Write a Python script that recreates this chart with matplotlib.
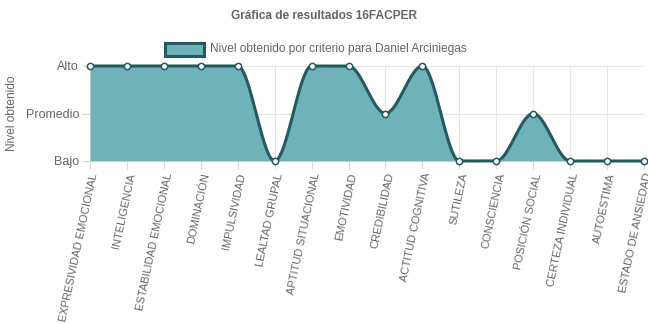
import matplotlib
matplotlib.use("Agg")
import matplotlib.pyplot as plt
import numpy as np

plt.rcParams['font.family'] = ['Liberation Sans', 'DejaVu Sans']

criterios = ["EXPRESIVIDAD EMOCIONAL", "INTELIGENCIA", "ESTABILIDAD EMOCIONAL",
             "DOMINACIÓN", "IMPULSIVIDAD", "LEALTAD GRUPAL", "APTITUD SITUACIONAL",
             "EMOTIVIDAD", "CREDIBILIDAD", "ACTITUD COGNITIVA", "SUTILEZA",
             "CONSCIENCIA", "POSICIÓN SOCIAL", "CERTEZA INDIVIDUAL", "AUTOESTIMA",
             "ESTADO DE ANSIEDAD"]
niveles = [3, 3, 3, 3, 3, 1, 3, 3, 2, 3, 1, 1, 2, 1, 1, 1]
nivel_labels = ["Bajo", "Promedio", "Alto"]
nivel_ticks = [1, 2, 3]


def monotone(x, y, n=40):
    # curva monotona tipo Chart.js (Fritsch-Carlson)
    x = np.asarray(x, float)
    y = np.asarray(y, float)
    d = np.diff(y) / np.diff(x)
    m = np.zeros(len(y))
    m[0] = d[0]
    m[-1] = d[-1]
    for i in range(1, len(y) - 1):
        m[i] = 0 if d[i - 1] * d[i] <= 0 else (d[i - 1] + d[i]) / 2
    for i in range(len(d)):
        if d[i] == 0:
            m[i] = m[i + 1] = 0
            continue
        a, b = m[i] / d[i], m[i + 1] / d[i]
        s = a * a + b * b
        if s > 9:
            t = 3 / np.sqrt(s)
            m[i], m[i + 1] = t * a * d[i], t * b * d[i]
    xs, ys = [], []
    for i in range(len(d)):
        h = x[i + 1] - x[i]
        t = np.linspace(0, 1, n)
        h00 = 2 * t**3 - 3 * t**2 + 1
        h10 = t**3 - 2 * t**2 + t
        h01 = -2 * t**3 + 3 * t**2
        h11 = t**3 - t**2
        xs.append(x[i] + t * h)
        ys.append(h00 * y[i] + h10 * h * m[i] + h01 * y[i + 1] + h11 * h * m[i + 1])
    return np.concatenate(xs), np.concatenate(ys)


fill_color = "#6fb3b8"
line_color = "#225a60"
text_color = "#666666"

fig = plt.figure(figsize=(6.48, 3.24), dpi=100)
ax = fig.add_axes([90 / 648, 1 - 161 / 324, 554 / 648, 95 / 324])

x = np.arange(len(criterios))
cx, cy = monotone(x, niveles)
ax.fill_between(cx, 1, cy, color=fill_color, lw=0, zorder=2)
ax.plot(cx, cy, color=line_color, lw=2.2, zorder=3, clip_on=False)
ax.plot(x, niveles, 'o', ms=4.5, mfc='white', mec=line_color, mew=1.1,
        zorder=4, clip_on=False)

ax.set_xlim(0, len(criterios) - 1)
ax.set_ylim(1, 3)
ax.set_yticks(nivel_ticks)
ax.set_yticklabels(nivel_labels)
ax.set_xticks(x)
ax.set_xticklabels(criterios, rotation=78, ha='right', va='top',
                   rotation_mode='anchor', fontsize=8)
ax.tick_params(axis='both', colors='#d9d9d9', labelcolor=text_color,
               labelsize=9, length=6, width=0.8, pad=2)
ax.tick_params(axis='x', labelsize=8)
ax.grid(True, color='#e4e4e4', lw=0.8, zorder=0)
for s in ax.spines.values():
    s.set_visible(False)

fig.text(12 / 648, 1 - 113 / 324, "Nivel obtenido", rotation=90, ha='center',
         va='center', fontsize=8.6, color=text_color)

fig.text(0.5, 1 - 16 / 324, "Gráfica de resultados 16FACPER", ha='center',
         va='center', fontsize=8.6, fontweight='bold', color=text_color)

fig.patches.append(plt.Rectangle((165 / 648, 1 - 56 / 324), 39 / 648, 13 / 324,
                                 transform=fig.transFigure, facecolor=fill_color,
                                 edgecolor=line_color, lw=2.2))
fig.text(210 / 648, 1 - 49 / 324, "Nivel obtenido por criterio para Daniel Arciniegas",
         ha='left', va='center', fontsize=8.6, color=text_color)

fig.savefig("out.png", dpi=100)
